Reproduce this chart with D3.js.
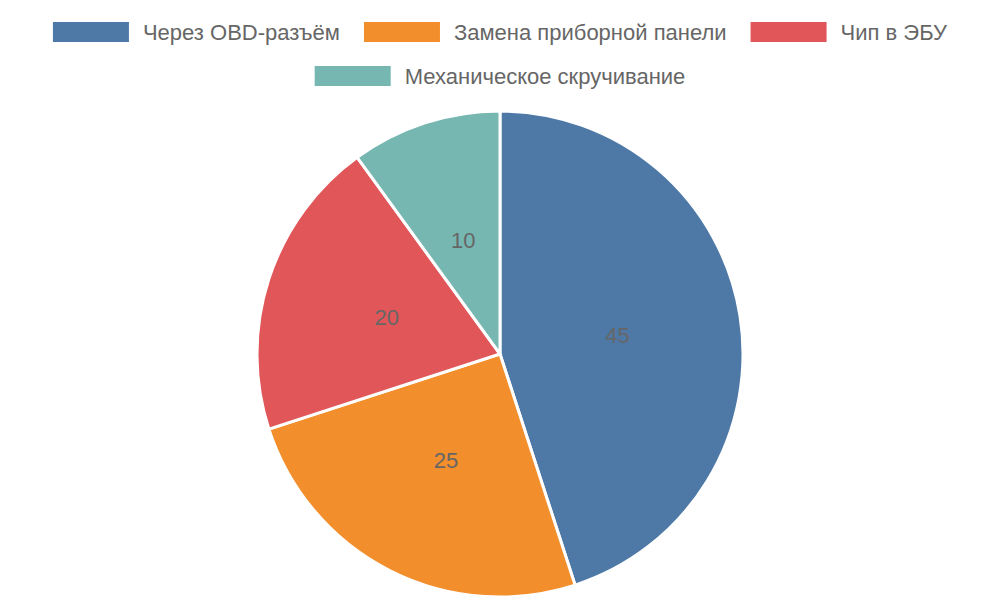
<!DOCTYPE html>
<html><head><meta charset="utf-8">
<script src="https://cdn.jsdelivr.net/npm/d3@7"></script>
<style>body{margin:0;background:#fff}</style></head>
<body><svg id="c" width="1000" height="600"></svg>
<script>
const categories = ["Через OBD-разъём","Замена приборной панели","Чип в ЭБУ","Механическое скручивание"];
const values = [45,25,20,10];
const colors = ["#4e79a7","#f28e2b","#e15759","#76b7b2"];

const svg = d3.select("#c");
const font = "Liberation Sans, Arial, sans-serif";
// legend
const rows = [[0,1,2],[3]];
const rowY = [32,76];
const boxW = 76, boxH = 20, gapT = 14, gapI = 24;
rows.forEach((row,ri)=>{
  const items = row.map(i=>{
    const g = svg.append("g");
    g.append("rect").attr("width",boxW).attr("height",boxH).attr("y",-boxH/2).attr("fill",colors[i]);
    const t = g.append("text").attr("x",boxW+gapT).attr("dy","0.35em")
      .attr("font-family",font).attr("font-size",22).attr("fill","#666").text(categories[i]);
    return {g, w: boxW+gapT+t.node().getComputedTextLength()};
  });
  const total = d3.sum(items,d=>d.w)+gapI*(items.length-1);
  let x = 500-total/2;
  items.forEach(it=>{ it.g.attr("transform",`translate(${x},${rowY[ri]})`); x+=it.w+gapI; });
});

const cx=500, cy=354, r=243;
const pie = d3.pie().sort(null).value(d=>d)(values);
const arc = d3.arc().innerRadius(0).outerRadius(r);
const lab = d3.arc().innerRadius(r*0.49).outerRadius(r*0.49);
const g = svg.append("g").attr("transform",`translate(${cx},${cy})`);
g.selectAll("path").data(pie).join("path").attr("d",arc)
  .attr("fill",(d,i)=>colors[i]).attr("stroke","#fff").attr("stroke-width",3);
g.selectAll("text").data(pie).join("text")
  .attr("transform",d=>`translate(${lab.centroid(d)})`)
  .attr("text-anchor","middle").attr("dy","0.35em")
  .attr("font-family",font).attr("font-size",22).attr("fill","#666")
  .text(d=>d.data);
</script></body></html>
